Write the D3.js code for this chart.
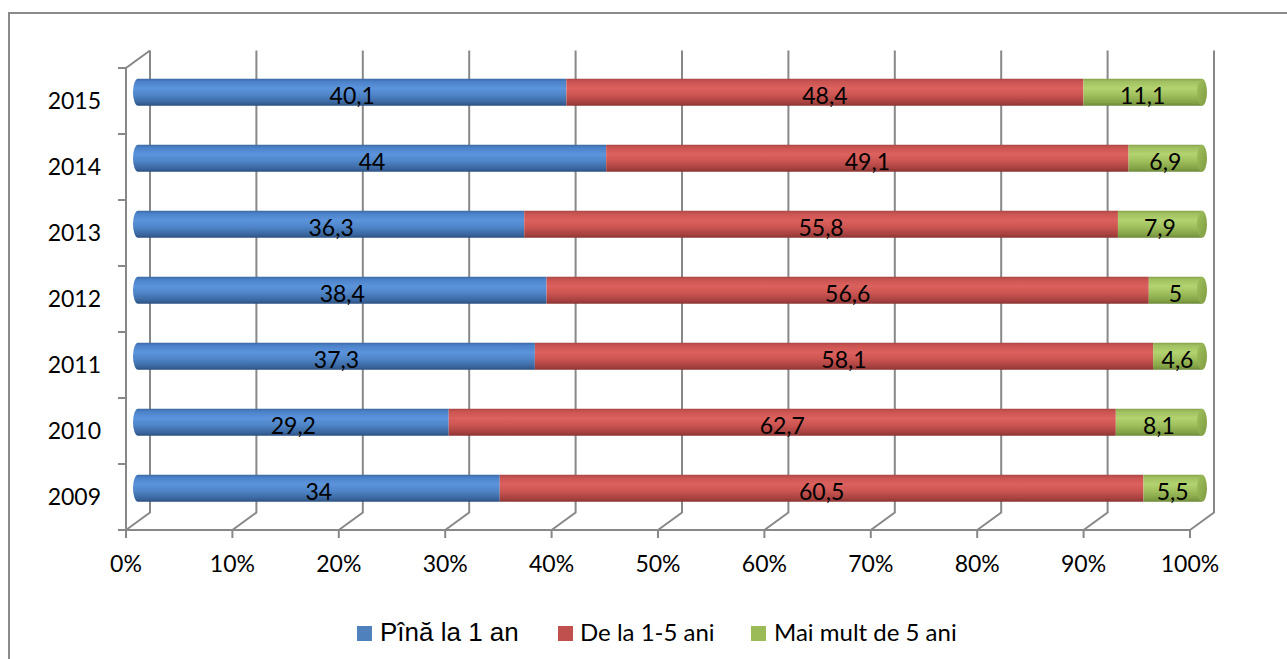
<!DOCTYPE html>
<html>
<head>
<meta charset="utf-8">
<script src="https://cdn.jsdelivr.net/npm/d3@7"></script>
<style>
  html, body { margin: 0; padding: 0; background: #fff; }
  svg { display: block; }
</style>
</head>
<body>
<svg id="chart" width="1287" height="659"></svg>
<script>
// Years, top row first
const years = ["2015", "2014", "2013", "2012", "2011", "2010", "2009"];
// Share of each duration group (%)
const pinaLa1An   = [40.1, 44,   36.3, 38.4, 37.3, 29.2, 34];
const deLa1la5Ani = [48.4, 49.1, 55.8, 56.6, 58.1, 62.7, 60.5];
const peste5Ani   = [11.1, 6.9,  7.9,  5,    4.6,  8.1,  5.5];
const seriesNames = ["Pînă la 1 an", "De la 1-5 ani", "Mai mult de 5 ani"];
const tickLabels = ["0%", "10%", "20%", "30%", "40%", "50%", "60%", "70%", "80%", "90%", "100%"];

const rows = years.map((y, i) => ({ year: y, s0: pinaLa1An[i], s1: deLa1la5Ani[i], s2: peste5Ani[i] }));
const keys = ["s0", "s1", "s2"];
const stacked = d3.stack().keys(keys).offset(d3.stackOffsetExpand)(rows);

const svg = d3.select("#chart");
const fontCal = "Lato, 'Open Sans', sans-serif";

// Plot frame: front plane and depth offset of the 3-D box
const x = d3.scaleLinear().domain([0, 1]).range([126, 1190]);
const y = d3.scaleBand().domain(years).range([68, 530]);
const depthX = 24, depthY = -17.5;
const barR = 13.5, capRx = 5;

// outer frame
svg.append("rect").attr("x", 9).attr("y", 13).attr("width", 1300).attr("height", 700)
  .attr("fill", "none").attr("stroke", "#8a8a8a").attr("stroke-width", 2);

const grid = svg.append("g").attr("stroke", "#888").attr("stroke-width", 2).attr("fill", "none");
const ticks = d3.range(0, 1.0001, 0.1);
const yTop = y.range()[0], yBot = y.range()[1];

// back wall gridlines + floor diagonals
ticks.forEach(t => {
  const xf = x(t), xb = x(t) + depthX;
  grid.append("path").attr("d", `M${xb},${yTop + depthY}V${yBot + depthY}L${xf},${yBot}`);
  grid.append("line").attr("x1", xf).attr("x2", xf).attr("y1", yBot).attr("y2", yBot + 8);
});
// floor front edge
grid.append("line").attr("x1", x(0)).attr("x2", x(1)).attr("y1", yBot).attr("y2", yBot);
// left wall edges
grid.append("path").attr("d", `M${x(0) + depthX},${yTop + depthY}L${x(0)},${yTop}V${yBot}`);
// category ticks
const bounds = years.map(d => y(d)).concat([yBot]);
bounds.forEach(b => grid.append("line").attr("x1", x(0) - 8).attr("x2", x(0)).attr("y1", b).attr("y2", b));

// cylinder gradients
const colors = [
  { base: "#4F81BD", stops: ["#3b69a4", "#4b81c8", "#5c94dc", "#4f85c8", "#3a669f", "#2c5080"], cap: "#3f6ca6" },
  { base: "#C0504D", stops: ["#a94645", "#c95351", "#dc615e", "#cc5552", "#a6413f", "#8a3533"], cap: "#a84442" },
  { base: "#9BBB59", stops: ["#86a24b", "#a0c060", "#b3d270", "#a0c05d", "#83a246", "#6c8838"], cap: "#7f9c41" }
];
const defs = svg.append("defs");
colors.forEach((c, i) => {
  const g = defs.append("linearGradient").attr("id", "cyl" + i)
    .attr("x1", 0).attr("y1", 0).attr("x2", 0).attr("y2", 1);
  [0, 0.1, 0.35, 0.6, 0.88, 1].forEach((o, j) => g.append("stop").attr("offset", o).attr("stop-color", c.stops[j]));
  const cg = defs.append("linearGradient").attr("id", "cap" + i)
    .attr("x1", 0).attr("y1", 0).attr("x2", 1).attr("y2", 1);
  cg.append("stop").attr("offset", 0).attr("stop-color", c.stops[3]);
  cg.append("stop").attr("offset", 1).attr("stop-color", c.cap);
});

// bars
const bars = svg.append("g");
const labels = svg.append("g").attr("font-family", fontCal).attr("font-size", 23)
  .attr("fill", "#000").attr("text-anchor", "middle");
const cy = d => y(d) + y.bandwidth() / 2 + depthY / 2;

stacked.forEach((layer, si) => {
  layer.forEach((seg, ri) => {
    const yr = rows[ri].year;
    const x0 = x(seg[0]) + depthX / 2, x1 = x(seg[1]) + depthX / 2;
    const c = cy(yr), t = c - barR, b = c + barR;
    let d;
    if (si === 0) {
      d = `M${x0},${t}L${x1},${t}L${x1},${b}L${x0},${b}A${capRx},${barR} 0 0 1 ${x0},${t}Z`;
    } else {
      d = `M${x0},${t}L${x1},${t}L${x1},${b}L${x0},${b}Z`;
    }
    bars.append("path").attr("d", d).attr("fill", `url(#cyl${si})`);
    if (si === keys.length - 1) {
      bars.append("ellipse").attr("cx", x1).attr("cy", c).attr("rx", capRx).attr("ry", barR)
        .attr("fill", `url(#cap${si})`);
    }
    const v = rows[ri][keys[si]];
    labels.append("text").attr("x", (x0 + x1) / 2).attr("y", c + 12)
      .text(String(v).replace(".", ","));
  });
});

// category labels
svg.append("g").attr("font-family", fontCal).attr("font-size", 23).attr("text-anchor", "end")
  .selectAll("text").data(years).join("text")
  .attr("x", 101).attr("y", d => y(d) + y.bandwidth() / 2 + 8).text(d => d);

// percentage axis labels
svg.append("g").attr("font-family", fontCal).attr("font-size", 23).attr("text-anchor", "middle")
  .selectAll("text").data(ticks).join("text")
  .attr("x", d => x(d)).attr("y", 572).text((d, i) => tickLabels[i]);

// legend
const legendItems = [
  { sq: 357, tx: 380, font: "'Liberation Sans', Arial, sans-serif", size: 26 },
  { sq: 558, tx: 580, font: fontCal, size: 24 },
  { sq: 751, tx: 774, font: fontCal, size: 24 }
];
const legend = svg.append("g");
legendItems.forEach((it, i) => {
  legend.append("rect").attr("x", it.sq).attr("y", 626).attr("width", 15).attr("height", 15)
    .attr("fill", colors[i].base);
  legend.append("text").attr("x", it.tx).attr("y", 641).attr("font-family", it.font)
    .attr("font-size", it.size).text(seriesNames[i]);
});
</script>
</body>
</html>
